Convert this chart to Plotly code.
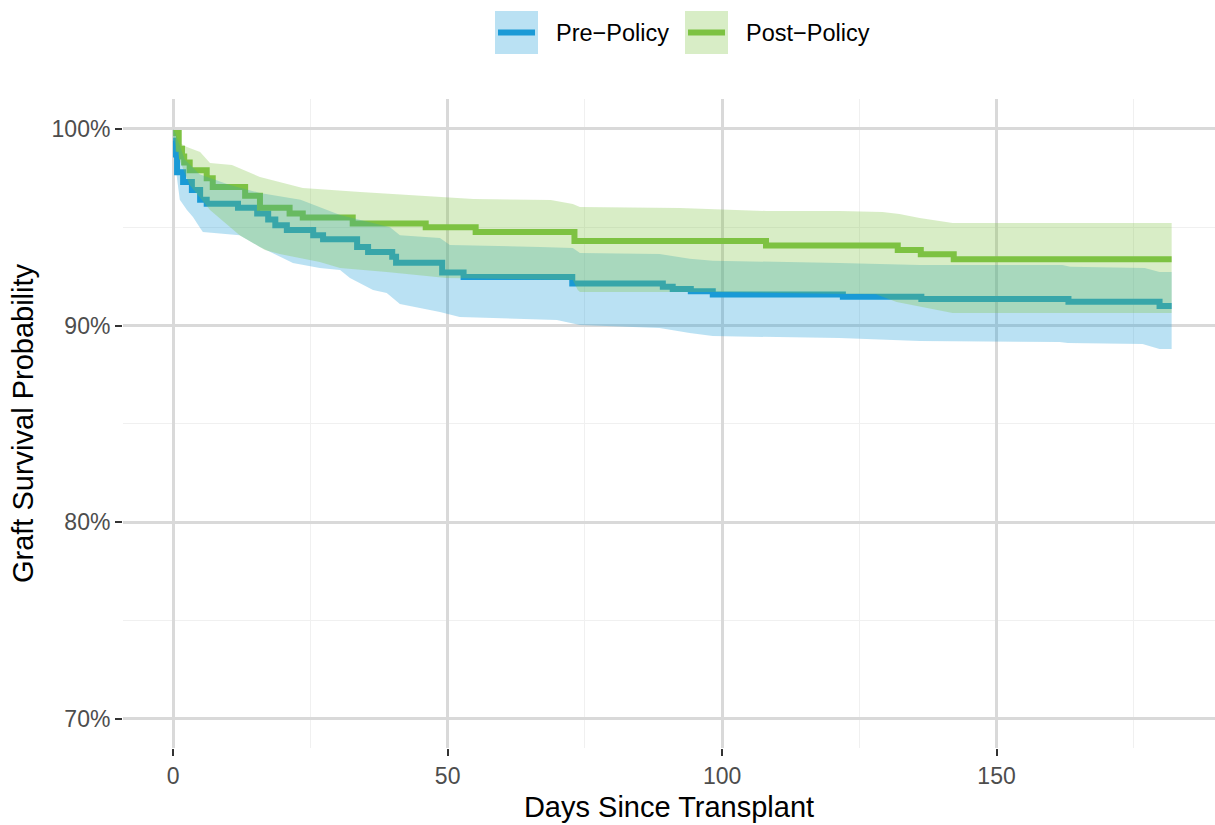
import plotly.graph_objects as go

# ---------------- data ----------------
pre_t = [0, 0.5, 0.7, 1.8, 3.4, 4.9, 6.1, 11.8, 15.3, 17.3, 18.6, 20.7, 25.5, 27.3,
         33.5, 35.5, 39.9, 40.6, 49.0, 52.9, 72.7, 89.2, 91.0, 94.3, 98.3, 122.0,
         136.3, 163.1, 179.7, 181.9]
pre_s = [0.994, 0.987, 0.978, 0.973, 0.969, 0.964, 0.962, 0.960, 0.957, 0.954, 0.951,
         0.9486, 0.946, 0.9440, 0.940, 0.9375, 0.935, 0.932, 0.927, 0.9247, 0.9215,
         0.9198, 0.9187, 0.9175, 0.9158, 0.9147, 0.9136, 0.9122, 0.9100, 0.9100]

post_t = [0, 1.0, 1.6, 2.0, 3.0, 6.1, 7.2, 13.1, 15.8, 21.2, 23.6, 32.7, 46.0, 55.1,
          73.1, 108.0, 132.0, 136.2, 142.2, 181.9]
post_s = [0.998, 0.990, 0.986, 0.983, 0.979, 0.975, 0.9705, 0.966, 0.960, 0.957, 0.955,
          0.952, 0.950, 0.9476, 0.943, 0.9407, 0.9385, 0.9363, 0.9338, 0.9338]

pre_up_t = [0, 0.5, 2.1, 4.8, 10.3, 15.8, 23.2, 30.4, 39.5, 41.3, 48.6, 50.4, 66.8, 72.8,
            74.1, 88.6, 94.1, 98.3, 121.4, 136.0, 162.0, 163.4, 177.0, 179.7, 181.9]
pre_up = [1.0, 0.997, 0.9845, 0.977, 0.9715, 0.9675, 0.964, 0.9563, 0.950, 0.946, 0.9446,
          0.941, 0.940, 0.9395, 0.937, 0.9364, 0.934, 0.933, 0.9319, 0.9309, 0.9309,
          0.930, 0.9293, 0.9273, 0.9273]
pre_lo_t = [0, 0.5, 1.2, 2.5, 3.6, 4.9, 5.4, 12.1, 15.8, 20.7, 21.8, 26.7, 30.4, 32.2,
            36.4, 38.9, 41.3, 48.6, 52.2, 69.9, 74.1, 88.6, 94.1, 98.3, 121.4, 136.0,
            161.5, 163.0, 176.6, 179.7, 181.9]
pre_lo = [0.994, 0.979, 0.964, 0.9588, 0.9553, 0.9497, 0.9476, 0.946, 0.940, 0.9334,
          0.9319, 0.9293, 0.9283, 0.9242, 0.9181, 0.9166, 0.911, 0.907, 0.9044, 0.9029,
          0.9003, 0.8988, 0.8963, 0.8947, 0.8937, 0.8922, 0.8917, 0.8912, 0.8907,
          0.8881, 0.8881]

post_up_t = [0, 1.2, 2.5, 4.9, 6.7, 10.7, 15.8, 19.5, 23.6, 34.1, 54.7, 68.8, 72.8, 74.1,
             92.3, 108.1, 121.4, 129.2, 132.3, 136.0, 142.0, 181.9]
post_up = [1.0, 0.9929, 0.9909, 0.9883, 0.9827, 0.9817, 0.9756, 0.9731, 0.970, 0.968,
           0.9644, 0.9639, 0.9619, 0.9603, 0.9598, 0.9583, 0.9583, 0.9578, 0.9568,
           0.9547, 0.9522, 0.9522]
post_lo_t = [0, 1.2, 3.0, 4.9, 6.7, 12.1, 16.7, 19.4, 26.7, 30.4, 38.9, 49.8, 72.8, 73.7,
             74.1, 98.3, 128.0, 131.8, 136.0, 142.0, 181.9]
post_lo = [0.996, 0.984, 0.9715, 0.965, 0.9588, 0.946, 0.9385, 0.9364, 0.9324, 0.9293,
           0.9273, 0.9242, 0.9232, 0.9181, 0.9171, 0.9171, 0.9160, 0.912, 0.9095, 0.9064,
           0.9064]

groups = ["Pre\u2212Policy", "Post\u2212Policy"]
line_colors = ["#1B9AD6", "#7DC242"]
fill_colors = ["rgba(27,154,214,0.3)", "rgba(125,194,66,0.3)"]

x_ticks = [0, 50, 100, 150]
y_ticks = [0.7, 0.8, 0.9, 1.0]

# ---------------- figure ----------------
W, H = 1215, 825
L, R, T, B = 123, 0, 99, 77

fig = go.Figure()

# lines first (ribbons are drawn over them, as in the reference)
for t, s, c, name in [(pre_t, pre_s, line_colors[0], groups[0]),
                      (post_t, post_s, line_colors[1], groups[1])]:
    fig.add_trace(go.Scatter(x=t, y=s, mode="lines", line=dict(color=c, width=6, shape="hv"),
                             name=name, showlegend=False, hoverinfo="skip"))

for ut, u, lt, lo, fc in [(pre_up_t, pre_up, pre_lo_t, pre_lo, fill_colors[0]),
                          (post_up_t, post_up, post_lo_t, post_lo, fill_colors[1])]:
    xs = list(ut) + list(reversed(lt))
    ys = list(u) + list(reversed(lo))
    fig.add_trace(go.Scatter(x=xs, y=ys, mode="lines", fill="toself", fillcolor=fc,
                             line=dict(width=0, color=fc), showlegend=False, hoverinfo="skip"))

# manual legend (ggplot-style keys)
def px_x(px):
    return (px - L) / (W - L - R)

def px_y(py):
    return (H - B - py) / (H - T - B)

key_boxes = [(495, 538), (685, 728)]
text_x = [554, 744]
for (x0, x1), tx, lc, fc, name in zip(key_boxes, text_x, line_colors, fill_colors, groups):
    fig.add_shape(type="rect", xref="paper", yref="paper", x0=px_x(x0), x1=px_x(x1),
                  y0=px_y(54), y1=px_y(11), fillcolor=fc, line=dict(width=0), layer="above")
    fig.add_shape(type="line", xref="paper", yref="paper", x0=px_x(x0 + 3), x1=px_x(x1 - 3),
                  y0=px_y(32.5), y1=px_y(32.5), line=dict(color=lc, width=6), layer="above")
    fig.add_annotation(xref="paper", yref="paper", x=px_x(tx), y=px_y(33), text=name,
                       showarrow=False, xanchor="left", yanchor="middle",
                       font=dict(size=23.5, color="#000000"))

axis_common = dict(
    showline=False, zeroline=False, ticks="outside", ticklen=7, tickwidth=2,
    tickcolor="#333333", gridcolor="#D9D9D9", gridwidth=2.5,
    tickfont=dict(size=23, color="#4D4D4D"), automargin=False,
)

fig.update_layout(
    width=W, height=H,
    margin=dict(l=L, r=R, t=T, b=B, pad=0),
    paper_bgcolor="white", plot_bgcolor="white",
    font=dict(family="Liberation Sans, Arial, sans-serif"),
    showlegend=False,
    xaxis=dict(
        range=[-9.15, 189.8], tickmode="array", tickvals=x_ticks,
        ticktext=[str(v) for v in x_ticks],
        minor=dict(showgrid=True, gridcolor="#F0F0F0", gridwidth=1.3, dtick=25, tick0=0),
        title=dict(text="Days Since Transplant", font=dict(size=29, color="#000000"), standoff=9),
        **axis_common,
    ),
    yaxis=dict(
        range=[0.68525, 1.01525], tickmode="array", tickvals=y_ticks,
        ticktext=[f"{int(round(v*100))}%" for v in y_ticks],
        minor=dict(showgrid=True, gridcolor="#F0F0F0", gridwidth=1.3, dtick=0.05, tick0=0.7),
        title=dict(text="Graft Survival Probability", font=dict(size=29, color="#000000"), standoff=9),
        **axis_common,
    ),
)

fig.write_html("out.html")
